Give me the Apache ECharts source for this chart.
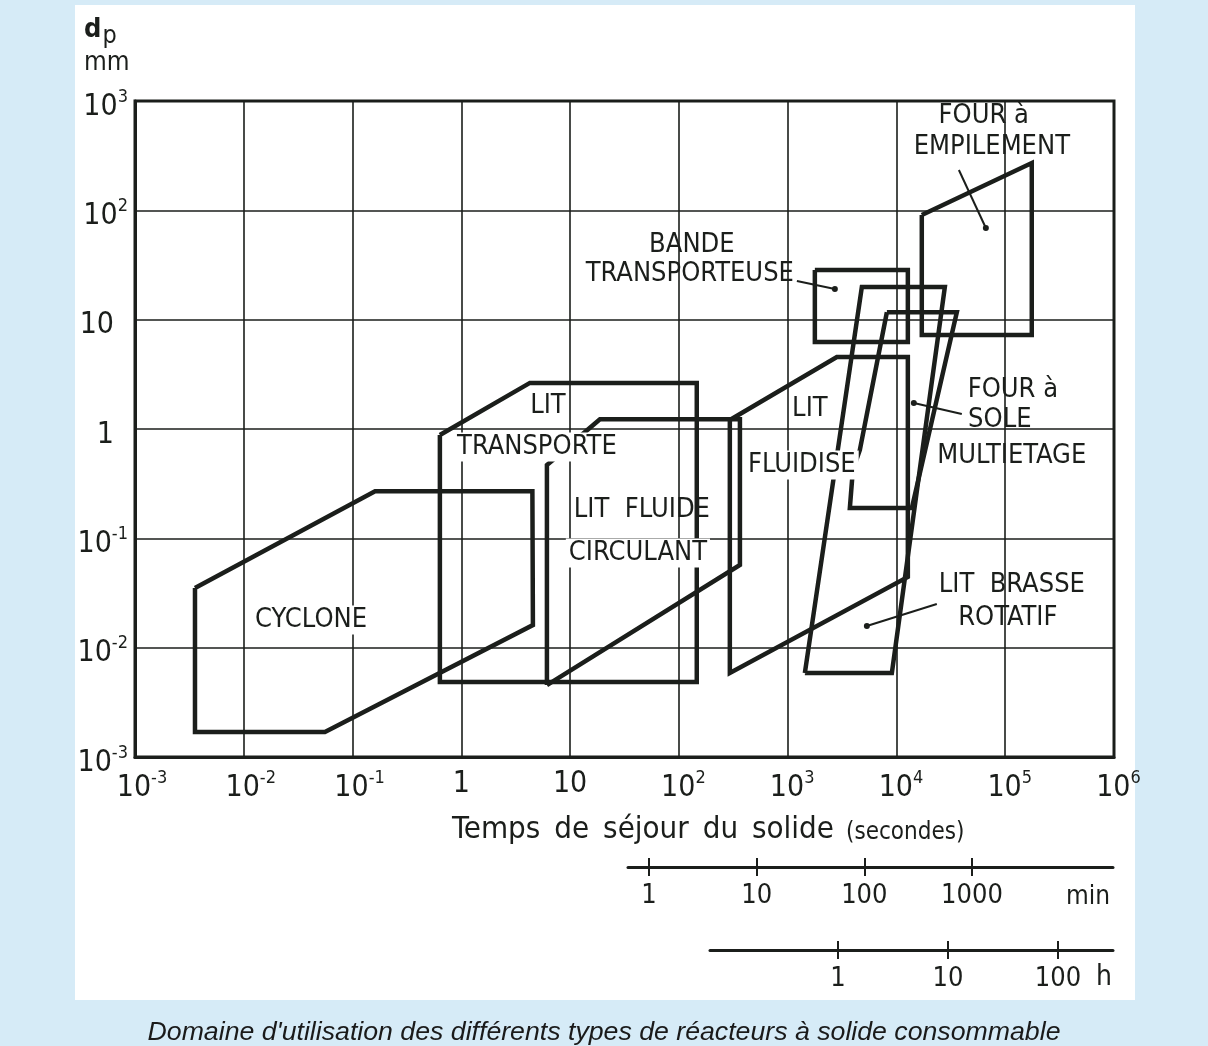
<!DOCTYPE html>
<html>
<head>
<meta charset="utf-8">
<script src="https://cdn.jsdelivr.net/npm/echarts@6/dist/echarts.min.js"></script>
<style>
html,body{margin:0;padding:0;background:#d6ebf7;}
#chart{width:1208px;height:1046px;}
</style>
</head>
<body>
<div id="chart"></div>
<script>
// ---------- data (seconds, mm) ----------
const cyclone = [[0.00356,0.0351],[0.00356,0.00169],[0.0557,0.00169],[4.55,0.0161],[4.5,0.27],[0.161,0.27],[0.00356,0.0351]];
const litTransporte = [[0.635,0.88],[0.635,0.00485],[146,0.00485],[146,2.64],[4.27,2.64],[0.635,0.88]];
const litFluideCirculant = [[6.12,0.00455],[6.12,0.469],[6.95,0.52],[13.7,0.938],[18.8,1.23],[364,1.23],[364,0.057],[6.12,0.00455]];
const litFluidise = [[294,1.21],[2832,4.55],[12730,4.55],[12730,0.0443],[294,0.00586],[294,1.21]];
const bandeTransporteuse = [[1778,28.5],[12730,28.5],[12730,6.25],[1778,6.25],[1778,28.5]];
const litBrasseRotatif = [[1439,0.00586],[9075,0.00586],[27860,19.9],[4808,19.9],[1439,0.00586]];
const fourSole = [[8165,11.7],[35900,11.7],[13860,0.189],[3730,0.189],[3975,0.422],[4610,0.643],[8165,11.7]];
const fourEmpilement = [[17100,90.6],[17100,7.24],[175400,7.24],[175400,271],[17100,90.6]];

// annotation texts and anchors (data units)
const labelTexts = ['CYCLONE','LIT','TRANSPORTE','LIT  FLUIDE','CIRCULANT','LIT','FLUIDISE','BANDE','TRANSPORTEUSE','FOUR à','EMPILEMENT','FOUR à','SOLE','MULTIETAGE','LIT  BRASSE','ROTATIF'];
const labelX = [0.0415,6.25,4.95,45.7,42,1600,1350,131.6,126,63500,75300,117500,89200,115000,115000,105700];
const labelY = [0.0179,1.62,0.684,0.1815,0.0734,1.52,0.469,48.2,26.2,729,379,2.27,1.21,0.566,0.0374,0.0187];
const labelKnockout = [true,false,true,false,true,false,true,false,false,false,false,false,false,false,false,false];

// leader lines: [from, to(dot)]
const leaderBande = [[1216,22.6],[2716,19.1]];
const leaderEmpilement = [[37500,234],[66370,68.9]];
const leaderSole = [[39900,1.37],[14450,1.73]];
const leaderRotatif = [[23500,0.0251],[5345,0.0158]];

// axis extents and tick labels
const xMin = 1e-3, xMax = 1e6, yMin = 1e-3, yMax = 1e3;
const minuteTicks = [1,10,100,1000];
const minuteExtent = [0.638, 20400];
const hourTicks = [1,10,100];
const hourExtent = [0.0686, 316];

// ---------- chart ----------
const INK = '#1b1e1b';
const FONT = '"Liberation Sans Narrow","DejaVu Sans Condensed","Liberation Sans",sans-serif';

const chart = echarts.init(document.getElementById('chart'), null, {renderer:'canvas'});

const richCommon = {
  b: {fontSize: 30, fontFamily: FONT, color: INK},
  s: {fontSize: 18, fontFamily: FONT, color: INK, padding: [0,0,20,0]},
  sp1: {width: 9, fontSize: 18},
  sp2: {width: 14, fontSize: 18},
  sp0: {width: 0, fontSize: 1}
};

function expOf(v){ return Math.round(Math.log10(v)); }
function xLabel(v){
  const e = expOf(v);
  if (e === 0) return '{b|1}';
  if (e === 1) return '{b|10}';
  const s = String(e);
  return '{' + (s.length > 1 ? 'sp2' : 'sp1') + '| }{b|10}{s|' + s + '}';
}
function yLabel(v){
  const e = expOf(v);
  if (e === 0) return '{b|1}{sp2| }';
  if (e === 1) return '{b|10}{sp2| }';
  const s = String(e);
  return '{b|10}{s|' + s + '}';
}

function poly(data){
  return {type:'line', xAxisIndex:0, yAxisIndex:0, data:data, symbol:'none', silent:true,
    lineStyle:{color:INK, width:4.5, join:'miter'}, z:3, animation:false};
}
function leader(d){
  return {type:'line', xAxisIndex:0, yAxisIndex:0, silent:true, animation:false, z:6,
    data:[{value:d[0], symbol:'none'},{value:d[1], symbol:'circle', symbolSize:6}],
    lineStyle:{color:INK, width:2}, itemStyle:{color:INK, opacity:1}};
}

const labelData = labelTexts.map((t,i)=>{
  const item = {name:t, value:[labelX[i], labelY[i]]};
  if (labelKnockout[i]) item.label = {backgroundColor:'#ffffff'};
  return item;
});

function secondaryAxes(gridIndex, extent, ticks){
  const common = {gridIndex:gridIndex, type:'log', logBase:10, min:extent[0], max:extent[1], position:'top',
    splitLine:{show:false}, minorTick:{show:false}};
  return [
    Object.assign({}, common, {
      axisLine:{show:true, onZero:false, lineStyle:{color:INK, width:3}},
      axisTick:{show:true, customValues:ticks, inside:true, length:9, lineStyle:{color:INK, width:2}},
      axisLabel:{show:true, customValues:ticks, inside:true, margin:15, fontSize:27, fontFamily:FONT, color:INK,
        formatter:(v)=>String(Math.round(v))}
    }),
    Object.assign({}, common, {
      axisLine:{show:false, onZero:false},
      axisTick:{show:true, customValues:ticks, inside:false, length:9, lineStyle:{color:INK, width:2}},
      axisLabel:{show:false}
    })
  ];
}

const option = {
  backgroundColor:'#d6ebf7',
  animation:false,
  title:{
    text:"Domaine d'utilisation des différents types de réacteurs à solide consommable",
    left:'center', top:1014,
    textStyle:{fontFamily:'"Liberation Sans",Arial,sans-serif', fontStyle:'italic', fontWeight:'normal', fontSize:26.7, color:'#1a1a1a'}
  },
  graphic:[
    {type:'rect', z:-100, shape:{x:75, y:5, width:1060, height:995}, style:{fill:'#ffffff'}},
    {type:'text', left:84, top:16, style:{text:'{d|d}{p|p}', rich:{
      d:{fontSize:27, fontWeight:'bold', fontFamily:FONT, fill:INK},
      p:{fontSize:25, fontFamily:FONT, fill:INK, padding:[14,0,0,1]}}}},
    {type:'text', left:84, top:50, style:{text:'mm', fontSize:26, fontFamily:FONT, fill:INK}},
    {type:'text', left:452, top:814, style:{text:'Temps\u2002de\u2002séjour\u2002du\u2002solide', fontSize:31, fontFamily:FONT, fill:INK}},
    {type:'text', left:846, top:821, style:{text:'(secondes)', fontSize:24, fontFamily:FONT, fill:INK}},
    {type:'text', left:1066, top:884, style:{text:'min', fontSize:26, fontFamily:FONT, fill:INK}},
    {type:'text', left:1096, top:964, style:{text:'h', fontSize:28, fontFamily:FONT, fill:INK}}
  ],
  grid:[
    {left:135, right:94, top:101, bottom:289, show:true, borderColor:INK, borderWidth:3, backgroundColor:'transparent'},
    {left:628, width:485, top:867, height:20, show:false},
    {left:710, width:403, top:950, height:20, show:false}
  ],
  xAxis:[
    {gridIndex:0, type:'log', logBase:10, min:xMin, max:xMax,
      axisLine:{show:true, lineStyle:{color:INK, width:3}},
      axisTick:{show:false}, minorTick:{show:false},
      splitLine:{show:true, lineStyle:{color:INK, width:1.6}},
      axisLabel:{margin:12, formatter:xLabel, rich:richCommon}
    },
    ...secondaryAxes(1, minuteExtent, minuteTicks),
    ...secondaryAxes(2, hourExtent, hourTicks)
  ],
  yAxis:[
    {gridIndex:0, type:'log', logBase:10, min:yMin, max:yMax,
      axisLine:{show:true, lineStyle:{color:INK, width:3}},
      axisTick:{show:false}, minorTick:{show:false},
      splitLine:{show:true, lineStyle:{color:INK, width:1.6}},
      axisLabel:{margin:7, formatter:yLabel, padding:[12,0,0,0], rich:richCommon}
    },
    {gridIndex:1, type:'value', min:0, max:1, show:false},
    {gridIndex:2, type:'value', min:0, max:1, show:false}
  ],
  series:[
    poly(cyclone), poly(litTransporte), poly(litFluideCirculant), poly(litFluidise),
    poly(bandeTransporteuse), poly(litBrasseRotatif), poly(fourSole), poly(fourEmpilement),
    {type:'scatter', xAxisIndex:0, yAxisIndex:0, symbolSize:0, silent:true, z:5, data:labelData,
      itemStyle:{opacity:1},
      label:{show:true, position:'inside', formatter:'{b}', fontSize:27, fontFamily:FONT, color:INK, padding:[1,3,1,3]}},
    leader(leaderBande), leader(leaderEmpilement), leader(leaderSole), leader(leaderRotatif)
  ]
};
chart.setOption(option);
</script>
</body>
</html>
